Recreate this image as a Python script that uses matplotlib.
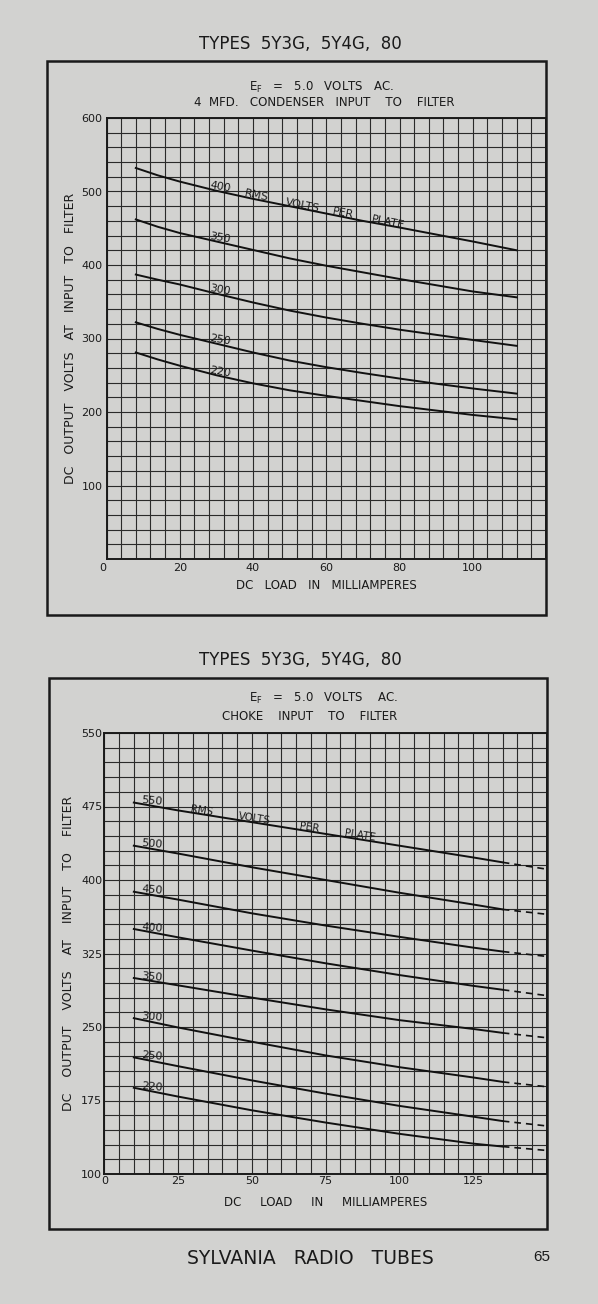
import numpy as np
import matplotlib
matplotlib.use("Agg")
import matplotlib.pyplot as plt
from matplotlib.patches import Rectangle

# ==========================
# DATA
# ==========================

# condenser input chart
cond_load = [8, 14, 20, 30, 40, 50, 60, 70, 80, 90, 100, 112]
cond_400 = [532, 522, 513.5, 501, 490, 480, 470, 460, 451, 441.5, 432, 420]
cond_350 = [462, 452, 443.5, 432, 420.5, 409, 399, 390, 381, 372.5, 364, 356]
cond_300 = [387, 380, 373.5, 361, 349, 338, 328.5, 320, 312, 305, 298, 290]
cond_250 = [322, 313, 305, 293, 281, 270, 261, 253, 245.5, 238.5, 232, 225]
cond_220 = [281, 271.5, 263, 250, 239, 229.5, 222, 215, 208, 202, 196, 190]
cond_names = ["400", "350", "300", "250", "220"]

# choke input chart (solid part, then dashed extension)
choke_load = [10, 25, 50, 75, 100, 125, 135]
choke_550 = [479, 471, 459, 447, 435, 423, 418]
choke_500 = [435, 427, 413, 400, 387, 375, 370]
choke_450 = [388, 380, 366, 353.5, 342, 331, 327]
choke_400 = [350, 341.5, 328, 315, 303, 292, 288]
choke_350 = [300, 292.5, 280, 268, 257, 248, 244]
choke_300 = [259, 249.5, 235, 221, 209, 198.5, 194]
choke_250 = [219, 210, 195.5, 182, 169.5, 158.5, 154]
choke_220 = [188, 179, 165, 152.5, 141, 131, 128]
choke_names = ["550", "500", "450", "400", "350", "300", "250", "220"]

choke_ext_load = [135, 150]
choke_ext = [[418, 411], [370, 365], [327, 322], [288, 282],
             [244, 239], [194, 189], [154, 149], [128, 124]]

cond_xticks = [0, 20, 40, 60, 80, 100]
cond_yticks = [100, 200, 300, 400, 500, 600]
choke_xticks = [0, 25, 50, 75, 100, 125]
choke_yticks = [100, 175, 250, 325, 400, 475, 550]

# ==========================
# FIGURE
# ==========================

W, H = 598, 1304
PAPER = "#d2d2d0"
INK = "#1a1a1a"

plt.rcParams["font.family"] = "DejaVu Sans"

fig = plt.figure(figsize=(W / 100, H / 100), dpi=100)
fig.patch.set_facecolor(PAPER)


def fx(px):
    return px / W


def fy(py):
    return 1 - py / H


def frame(x0, y0, x1, y1):
    fig.patches.append(Rectangle((fx(x0), fy(y1)), fx(x1 - x0), (y1 - y0) / H,
                                 transform=fig.transFigure, fill=False,
                                 edgecolor=INK, linewidth=1.8))


def setup_axes(ax, xlim, ylim, xstep, ystep, xticks, yticks, pad):
    ax.set_facecolor(PAPER)
    ax.set_xlim(*xlim)
    ax.set_ylim(*ylim)
    ax.set_xticks(xticks)
    ax.set_yticks(yticks)
    ax.set_xticks(np.arange(xlim[0], xlim[1] + 0.1, xstep), minor=True)
    ax.set_yticks(np.arange(ylim[0], ylim[1] + 0.1, ystep), minor=True)
    ax.grid(which="both", color="#2a2a2a", linewidth=0.8)
    ax.set_axisbelow(True)
    ax.tick_params(which="both", length=0, labelsize=8, colors=INK, pad=pad)
    for s in ax.spines.values():
        s.set_linewidth(1.4)
        s.set_color(INK)


# ==========================
# TOP CHART - CONDENSER INPUT
# ==========================

fig.text(fx(300), fy(44), "TYPES  5Y3G,  5Y4G,  80", ha="center", va="center",
         fontsize=12, color=INK)
frame(47, 61, 546, 615)
fig.text(fx(322), fy(87), r"E$\mathregular{_F}$   =   5.0   VOLTS   AC.",
         ha="center", va="center", fontsize=8.5, color=INK)
fig.text(fx(324), fy(102), "4  MFD.   CONDENSER   INPUT    TO    FILTER",
         ha="center", va="center", fontsize=8.5, color=INK)

ax1 = fig.add_axes([fx(106.5), fy(559), fx(546 - 106.5), (559 - 118) / H])
setup_axes(ax1, (0, 120), (0, 600), 4, 20, cond_xticks, cond_yticks, 3)
ax1.get_xticklabels()[0].set_ha("right")

cond_curves = [cond_400, cond_350, cond_300, cond_250, cond_220]
for name, vals in zip(cond_names, cond_curves):
    ax1.plot(cond_load, vals, color="#111111", linewidth=1.4)
    ax1.annotate(name, (28, np.interp(28, cond_load, vals)),
                 xytext=(0, -1), textcoords="offset points",
                 ha="left", va="bottom", rotation=-10,
                 rotation_mode="anchor", fontsize=8, color=INK)

for word, xw in zip(["RMS", "VOLTS", "PER", "PLATE"], [37.5, 48.5, 61.5, 72]):
    ax1.annotate(word, (xw, np.interp(xw, cond_load, cond_400)),
                 xytext=(0, -1), textcoords="offset points",
                 ha="left", va="bottom", rotation=-11.5,
                 rotation_mode="anchor", fontsize=8, color=INK)

ax1.set_xlabel("DC   LOAD   IN   MILLIAMPERES", fontsize=8.5, color=INK,
               labelpad=4)
ax1.set_ylabel("DC   OUTPUT   VOLTS   AT   INPUT   TO   FILTER", fontsize=9,
               color=INK, labelpad=3)

# ==========================
# BOTTOM CHART - CHOKE INPUT
# ==========================

fig.text(fx(300), fy(660), "TYPES  5Y3G,  5Y4G,  80", ha="center", va="center",
         fontsize=12, color=INK)
frame(49, 678, 547, 1229)
fig.text(fx(323), fy(698), r"E$\mathregular{_F}$   =   5.0   VOLTS    AC.",
         ha="center", va="center", fontsize=8.5, color=INK)
fig.text(fx(310), fy(716), "CHOKE    INPUT    TO    FILTER",
         ha="center", va="center", fontsize=8.5, color=INK)

ax2 = fig.add_axes([fx(104.3), fy(1174), fx(547 - 104.3), (1174 - 733) / H])
setup_axes(ax2, (0, 150), (100, 550), 5, 15, choke_xticks, choke_yticks, 1.5)

choke_curves = [choke_550, choke_500, choke_450, choke_400,
                choke_350, choke_300, choke_250, choke_220]
for name, vals, ext in zip(choke_names, choke_curves, choke_ext):
    ax2.plot(choke_load, vals, color="#111111", linewidth=1.4)
    ax2.plot(choke_ext_load, ext, color="#111111", linewidth=1.2,
             linestyle=(0, (4, 3)))
    ax2.annotate(name, (12.5, np.interp(12.5, choke_load, vals)),
                 xytext=(0, -1), textcoords="offset points",
                 ha="left", va="bottom", rotation=-5,
                 rotation_mode="anchor", fontsize=8, color=INK)

for word, xw in zip(["RMS", "VOLTS", "PER", "PLATE"], [29, 45, 66, 81]):
    ax2.annotate(word, (xw, np.interp(xw, choke_load, choke_550)),
                 xytext=(0, -1), textcoords="offset points",
                 ha="left", va="bottom", rotation=-9,
                 rotation_mode="anchor", fontsize=7.5, color=INK)

ax2.set_xlabel("DC     LOAD     IN     MILLIAMPERES", fontsize=8.5, color=INK,
               labelpad=7)
ax2.set_ylabel("DC    OUTPUT    VOLTS    AT    INPUT    TO    FILTER",
               fontsize=9, color=INK, labelpad=4)

# ==========================
# FOOTER
# ==========================

fig.text(fx(310), fy(1258), "SYLVANIA   RADIO   TUBES", ha="center",
         va="center", fontsize=13.5, color=INK)
fig.text(fx(550), fy(1257), "65", ha="right", va="center",
         fontsize=11, color=INK, family="Liberation Sans")

fig.savefig("out.png", dpi=100, facecolor=PAPER)
